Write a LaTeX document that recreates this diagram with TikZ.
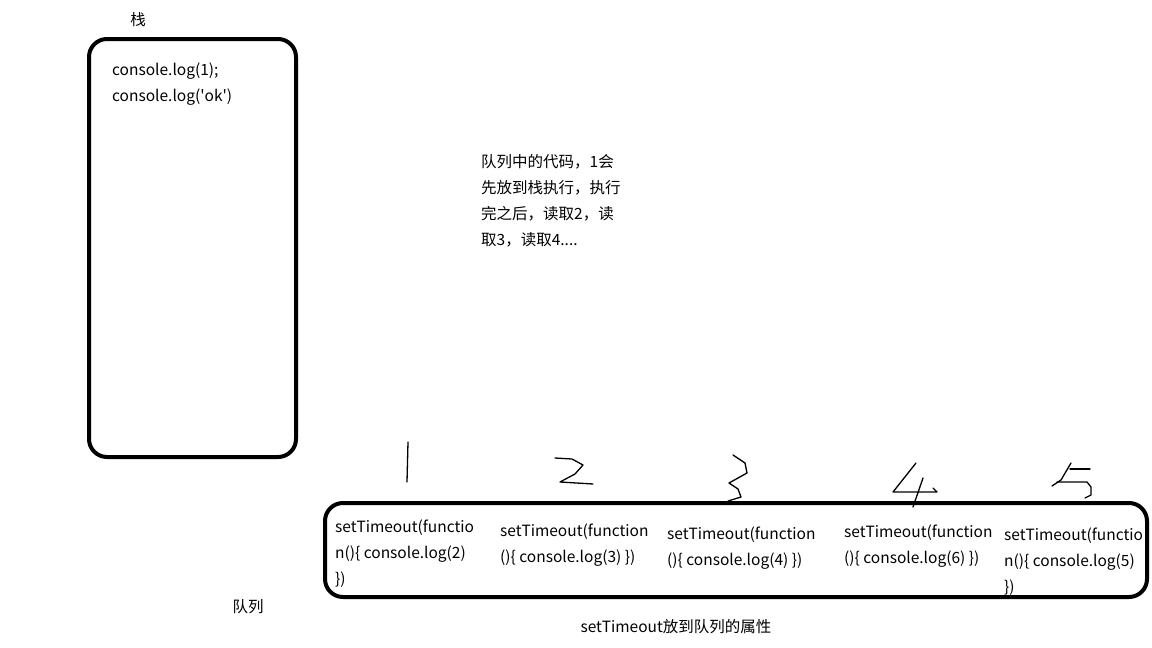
\documentclass[tikz,border=0pt]{standalone}
\usepackage{fontspec}
\setmainfont{Noto Sans CJK SC}

\begin{document}
\begin{tikzpicture}[x=1pt, y=-1pt]
	\tikzset{boite/.style={draw=black, line width=4pt, rounded corners=18pt}, texte/.style={inner sep=0pt, align=left, font=\fontsize{15.5}{26}\selectfont}, trait/.style={line width=1.3pt, line cap=round, line join=round}};

	\useasboundingbox (0,0) rectangle (1152,648);

	% les deux boites
	\draw[boite] (89,39) rectangle (296,457);
	\draw[boite] (325,503) rectangle (1147,597);

	% ancre base = ligne du bas
	\node[texte, anchor=base] (titrePile) at (138,25) {栈};
	\node[texte, anchor=base west] (pile) at (112,101) {console.log(1);\\console.log(\textquotesingle ok\textquotesingle)};

	\node[texte, anchor=base west] (explication) at (481,245) {队列中的代码，1会\\先放到栈执行，执行\\完之后，读取2，读\\取3，读取4....};

	\node[texte, anchor=base west] (t1) at (335,584) {setTimeout(functio\\n()\{ console.log(2)\\\})};
	\node[texte, anchor=base west] (t2) at (500,562) {setTimeout(function\\()\{ console.log(3) \})};
	\node[texte, anchor=base west] (t3) at (667,565) {setTimeout(function\\()\{ console.log(4) \})};
	\node[texte, anchor=base west] (t4) at (844,563) {setTimeout(function\\()\{ console.log(6) \})};
	\node[texte, anchor=base west] (t5) at (1004,592) {setTimeout(functio\\n()\{ console.log(5)\\\})};

	\node[texte, anchor=base] (titreFile) at (248,612) {队列};
	\node[texte, anchor=base] (legende) at (676,632) {setTimeout放到队列的属性};

	% chiffres a la main
	\draw[trait] (408,442) -- (407,482);
	\draw[trait] (555,458) -- (572,459) -- (583,465) -- (575,474) -- (560,482) -- (593,484);
	\draw[trait] (733,455) -- (745,463) -- (747,473) -- (729,483) -- (738,489) -- (741,497) -- (728,501);
	\draw[trait] (916,463) -- (893,492) -- (937,492) -- (933,488);
	\draw[trait] (923,478) -- (913,507);
	\draw[trait] (1071,463) -- (1061,480) -- (1052,486);
	\draw[trait] (1070,469) -- (1090,469);
	\draw[trait] (1057,482) -- (1087,482) -- (1091,487) -- (1091,495) -- (1085,498);
\end{tikzpicture}
\end{document}
